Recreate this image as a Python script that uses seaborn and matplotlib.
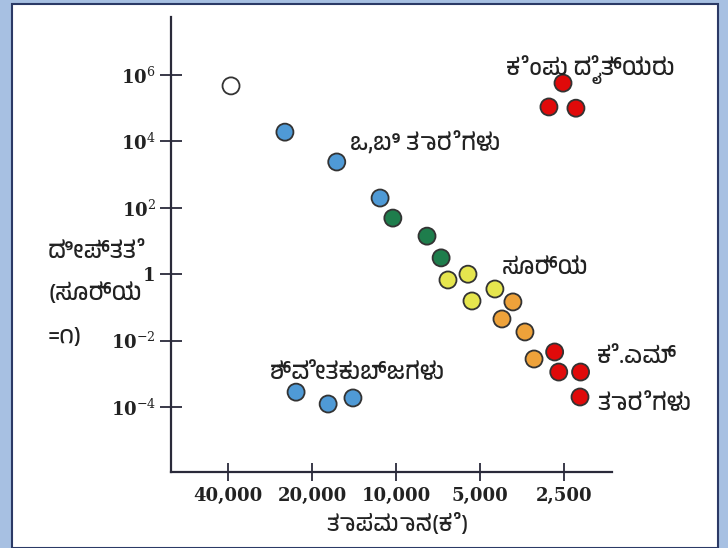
import numpy as np
import pandas as pd
import seaborn as sns
import matplotlib
matplotlib.use("Agg")
import matplotlib.pyplot as plt
from matplotlib import font_manager as fm
from matplotlib.ft2font import FT2Font
from matplotlib.patches import Rectangle

# ---------------- data ----------------
temperature = [39000, 25000, 16300, 11400, 10260, 7740, 6890,
               6510, 5520, 5340, 4420,
               3810, 4170, 3450, 3200,
               2700, 2610, 2180, 2190,
               2520, 2830, 2265,
               22800, 17500, 14260]
luminosity = [4.7e5, 1.9e4, 2.4e3, 197, 49, 14, 3.1,
              0.67, 1.0, 0.156, 0.358,
              0.146, 0.0448, 0.0182, 0.00279,
              0.00454, 0.00113, 0.00113, 2.0e-4,
              5.7e5, 1.09e5, 1.0e5,
              2.8e-4, 1.23e-4, 1.87e-4]
group = ["open", "blue", "blue", "blue", "green", "green", "green",
         "yellow", "yellow", "yellow", "yellow",
         "orange", "orange", "orange", "orange",
         "red", "red", "red", "red",
         "red", "red", "red",
         "blue", "blue", "blue"]

x_ticks = [40000, 20000, 10000, 5000, 2500]
x_ticklabels = ["40,000", "20,000", "10,000", "5,000", "2,500"]
y_ticks = [1e6, 1e4, 1e2, 1, 1e-2, 1e-4]
y_ticklabels = ["10$^{6}$", "10$^{4}$", "10$^{2}$", "1", "10$^{-2}$", "10$^{-4}$"]

x_label = "ತಾಪಮಾನ(ಕೆ)"
y_label_lines = ["ದೀಪ್ತತೆ", "(ಸೂರ್ಯ", "=೧)"]
annotations = ["ಕೆಂಪು ದೈತ್ಯರು", "ಒ,ಬಿ ತಾರೆಗಳು", "ಸೂರ್ಯ", "ಶ್ವೇತಕುಬ್ಜಗಳು", "ಕೆ.ಎಮ್", "ತಾರೆಗಳು"]

palette = {"open": "#ffffff", "blue": "#4f9ad6", "green": "#1e7d4c",
           "yellow": "#e6e64e", "orange": "#eea23a", "red": "#e00a0a"}

# ---------------- fonts ----------------
kn_family = None
for f in fm.fontManager.ttflist:
    if "kannada" in f.name.lower():
        kn_family = f.name
        break
if kn_family is None:
    for f in fm.fontManager.ttflist:
        try:
            if 0x0C95 in FT2Font(f.fname).get_charmap():
                kn_family = f.name
                break
        except Exception:
            pass
kn_fams = [kn_family, "DejaVu Sans"] if kn_family else ["DejaVu Sans"]

sns.set_theme(style="white")
plt.rcParams["font.family"] = ["DejaVu Serif"]
plt.rcParams["mathtext.fontset"] = "dejavuserif"

df = pd.DataFrame({"T": temperature, "L": luminosity, "g": group})

fig = plt.figure(figsize=(7.28, 5.48), dpi=100)
fig.patch.set_facecolor("#a7c0e2")
bg = Rectangle((12 / 728, 0), (718 - 12) / 728, 1 - 4 / 548,
               transform=fig.transFigure, facecolor="white",
               edgecolor="#2b3a66", linewidth=1.5, zorder=-10)
fig.patches.append(bg)

ax = fig.add_axes([171 / 728, 1 - 472 / 548, (612 - 171) / 728, (472 - 17) / 548])
ax.set_facecolor("none")
ax.set_zorder(5)

sns.scatterplot(data=df, x="T", y="L", hue="g", palette=palette, s=150,
                edgecolor="#333333", linewidth=1.3, legend=False, ax=ax, zorder=3)

ax.set_xscale("log", base=2)
ax.set_yscale("log")
ax.set_xlim(64000, 1682)
ax.set_ylim(10 ** -5.958, 10 ** 7.747)

ax.set_xticks(x_ticks)
ax.set_xticklabels(x_ticklabels, fontsize=13, fontweight="bold", color="#222222")
ax.set_yticks(y_ticks)
ax.set_yticklabels(y_ticklabels, fontsize=13, fontweight="bold", color="#222222")
ax.minorticks_off()
ax.tick_params(axis="x", bottom=True, direction="inout", length=13, width=1.3,
               color="#2a2a3a", pad=4)
ax.tick_params(axis="y", left=True, direction="inout", length=16, width=1.3,
               color="#2a2a3a", pad=3)

for s in ["top", "right"]:
    ax.spines[s].set_visible(False)
for s in ["left", "bottom"]:
    ax.spines[s].set_color("#2a2a3a")
    ax.spines[s].set_linewidth(1.6)

ax.set_xlabel("")
ax.set_ylabel("")

fig.text(397 / 728, 1 - 524 / 548, x_label, family=kn_fams, fontsize=16.5,
         fontweight="bold", ha="center", va="center", color="#222222", zorder=6)

ylab_y = [252, 293, 337]
for line, py in zip(y_label_lines, ylab_y):
    fig.text(48 / 728, 1 - py / 548, line, family=kn_fams, fontsize=17,
             fontweight="bold", ha="left", va="center", color="#222222", zorder=6)

ann_pos = [(0.760, 0.884), (0.406, 0.723), (0.751, 0.448),
           (0.224, 0.218), (0.966, 0.253), (0.966, 0.149)]
for txt, (px, py) in zip(annotations, ann_pos):
    ax.text(px, py, txt, transform=ax.transAxes, family=kn_fams, fontsize=17,
            fontweight="bold", ha="left", va="center", color="#222222",
            clip_on=False, zorder=4)

fig.savefig("out.png", dpi=100, facecolor=fig.get_facecolor())
